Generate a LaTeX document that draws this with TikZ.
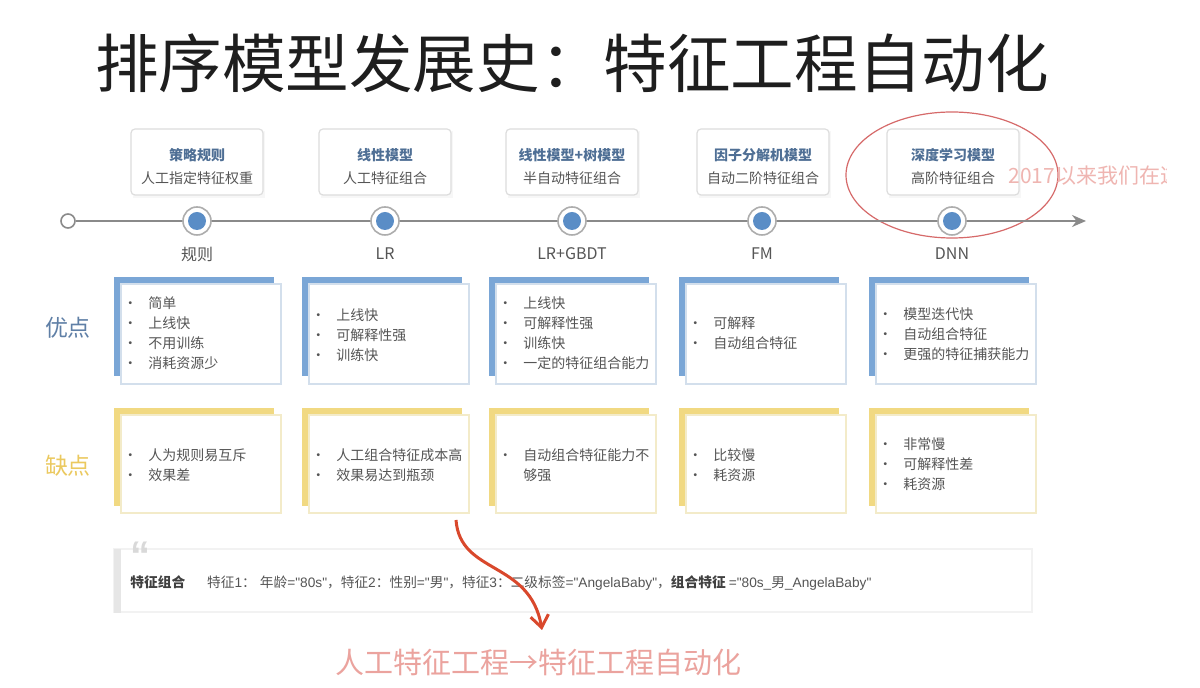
\documentclass[tikz,border=0pt]{standalone}
\usepackage{fontspec}
\setmainfont{Noto Sans CJK SC}
\newfontfamily\lat{Liberation Sans}
\usetikzlibrary{arrows.meta}
\definecolor{titlecol}{HTML}{1E1E1E}
\definecolor{txt}{HTML}{555555}
\definecolor{boxtitle}{HTML}{4F6F95}
\definecolor{boxgray}{HTML}{DDDDDD}
\definecolor{linegray}{HTML}{8A8A8A}
\definecolor{dotblue}{HTML}{5A8DC6}
\definecolor{advblue}{HTML}{7AA6D6}
\definecolor{advedge}{HTML}{D3DFEC}
\definecolor{disyel}{HTML}{F1D982}
\definecolor{disedge}{HTML}{F3EBC9}
\definecolor{advlabel}{HTML}{5F7FA6}
\definecolor{dislabel}{HTML}{EBC95F}
\definecolor{redarrow}{HTML}{D9482C}
\definecolor{pinktxt}{HTML}{EBA39E}
\definecolor{ellred}{HTML}{D66A6A}
\definecolor{quotegray}{HTML}{E6E6E6}
\tikzset{
  topbox/.style={draw=boxgray, line width=0.6pt, rounded corners=2pt, fill=white,
    minimum width=66pt, minimum height=33pt, inner sep=0pt},
  toptext/.style={align=center, inner sep=0pt, font=\fontsize{7pt}{11.5pt}\selectfont, text=txt},
  dotouter/.style={circle, draw=linegray!70, line width=0.8pt, fill=white, minimum size=14pt, inner sep=0pt},
  dotinner/.style={circle, fill=dotblue, minimum size=9pt, inner sep=0pt},
  era/.style={font=\fontsize{8pt}{10pt}\selectfont, text=txt},
  frontadv/.style={draw=advedge, line width=0.6pt, fill=white},
  frontdis/.style={draw=disedge, line width=0.6pt, fill=white},
  listtext/.style={anchor=west, inner sep=0pt, font=\fontsize{7pt}{10pt}\selectfont, text=txt, align=left},
  sidelabel/.style={font=\fontsize{11.5pt}{14pt}\selectfont},
}
\newcommand{\blist}[1]{\begin{tabular}{@{}l@{\hspace{5.5pt}}l@{}}#1\end{tabular}}
\begin{document}
\begin{tikzpicture}[x=0.5pt,y=-0.5pt]
\useasboundingbox (0,0) rectangle (1200,688);
\fill[white] (0,0) rectangle (1200,688);

% title
\node[text=titlecol, font=\fontsize{31.8pt}{36pt}\selectfont] (title) at (572,63) {排序模型发展史：特征工程自动化};

% top boxes
\foreach \cx/\nm/\ta/\tb in {197/b1/策略规则/人工指定特征权重, 385/b2/线性模型/人工特征组合, 572/b3/线性模型+树模型/半自动特征组合, 763/b4/因子分解机模型/自动二阶特征组合, 953/b5/深度学习模型/高阶特征组合}{
  \fill[black!3] (\cx-64,131) rectangle (\cx+68,198);
  \node[topbox] (\nm) at (\cx,162) {};
  \node[toptext] (\nm t) at (\cx,167) {{\bfseries\color{boxtitle}\ta}\\\tb};
}

% ellipse + red note
\draw[ellred, line width=0.6pt] (952,175) ellipse [x radius=106, y radius=63];
\begin{scope}
\clip (1000,150) rectangle (1166,200);
\node[anchor=west, text=pinktxt!80, font=\fontsize{10.5pt}{12pt}\selectfont, inner sep=0pt] (note) at (1008,176) {2017以来我们在这};
\end{scope}

% timeline
\node[circle, draw=linegray, line width=0.8pt, fill=white, minimum size=7pt, inner sep=0pt] (start) at (68,221) {};
\coordinate (tip) at (1086,221);
\draw[linegray, line width=1pt, -{Stealth[length=7pt,width=6pt]}] (start) -- (tip);
\foreach \cx/\nm/\lab in {197/d1/规则, 385/d2/LR, 572/d3/LR+GBDT, 762/d4/FM, 952/d5/DNN}{
  \node[dotouter] (\nm) at (\cx,221) {};
  \node[dotinner] (\nm i) at (\cx,221) {};
  \node[era] (\nm l) at (\cx,254) {\lab};
}

% side labels
\node[sidelabel, text=advlabel] (adv) at (68,328) {优点};
\node[sidelabel, text=dislabel] (dis) at (68,466) {缺点};

% advantage / disadvantage boxes
\foreach \cx in {197,385,572,762,952}{
  \fill[advblue] (\cx-83,277) rectangle (\cx+77,376);
  \filldraw[frontadv] (\cx-76,284) rectangle (\cx+84,384);
  \fill[disyel] (\cx-83,408) rectangle (\cx+77,506);
  \filldraw[frontdis] (\cx-76,415) rectangle (\cx+84,513);
}
\node[listtext] (a1) at (197-74,335) {\blist{• & 简单\\ • & 上线快\\ • & 不用训练\\ • & 消耗资源少}};
\node[listtext] (a2) at (385-74,337) {\blist{• & 上线快\\ • & 可解释性强\\ • & 训练快}};
\node[listtext] (a3) at (572-74,335) {\blist{• & 上线快\\ • & 可解释性强\\ • & 训练快\\ • & 一定的特征组合能力}};
\node[listtext] (a4) at (762-74,335) {\blist{• & 可解释\\ • & 自动组合特征}};
\node[listtext] (a5) at (952-74,336) {\blist{• & 模型迭代快\\ • & 自动组合特征\\ • & 更强的特征捕获能力}};

\node[listtext] (c1) at (197-74,467) {\blist{• & 人为规则易互斥\\ • & 效果差}};
\node[listtext] (c2) at (385-74,467) {\blist{• & 人工组合特征成本高\\ • & 效果易达到瓶颈}};
\node[listtext] (c3) at (572-74,467) {\blist{• & 自动组合特征能力不\\ & 够强}};
\node[listtext] (c4) at (762-74,467) {\blist{• & 比较慢\\ • & 耗资源}};
\node[listtext] (c5) at (952-74,466) {\blist{• & 非常慢\\ • & 可解释性差\\ • & 耗资源}};

% quote box
\draw[black!5, line width=0.6pt, fill=white] (114,549) rectangle (1032,612);
\fill[quotegray] (114,549) rectangle (121,613);
\node[text=black!15, font=\fontsize{20pt}{20pt}\selectfont\bfseries\lat, inner sep=0pt] (qm) at (140,556) {“};
\node[anchor=west, inner sep=0pt, text=txt, font=\fontsize{6.85pt}{8pt}\selectfont] (qt) at (130,583)
  {{\bfseries\color{black!75}特征组合}\hspace{11pt}特征{\lat 1}：\hspace{2pt}年龄{\lat ="80s"}，特征{\lat 2}：性别{\lat ="}男{\lat "}，特征{\lat 3}：二级标签{\lat ="AngelaBaby"}，{\bfseries\color{black!75}组合特征} {\lat ="80s\_}男{\lat \_AngelaBaby"}};

% red arrow
\coordinate (ra) at (456,520);
\coordinate (rb) at (542,630);
\draw[redarrow, line width=1.5pt, -{Straight Barb[length=6pt,width=9pt]}] (ra) .. controls (460,575) and (530,560) .. (rb);

% bottom red text
\node[text=pinktxt, font=\fontsize{14.5pt}{16pt}\selectfont] (bottom) at (538,662) {人工特征工程→特征工程自动化};
\end{tikzpicture}
\end{document}
